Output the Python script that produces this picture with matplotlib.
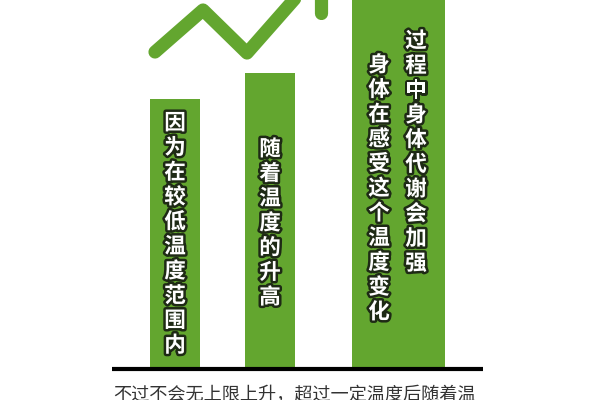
import matplotlib
matplotlib.use("Agg")
import matplotlib.pyplot as plt
import matplotlib.patheffects as pe

plt.rcParams["font.family"] = ["Noto Sans CJK SC", "DejaVu Sans"]

# bar data (height above the baseline, pixel-like units)
bar_labels = [
    ["因为在较低温度范围内"],
    ["随着温度的升高"],
    ["身体在感受这个温度变化", "过程中身体代谢会加强"],
]
bar_centers = [175, 270, 398.5]
bar_widths = [50, 50, 93]
bar_heights = [270, 296, 400]

# trend arrow
trend_x = [155, 203, 247, 321]
trend_y = [317, 359, 316, 400]
head_x = [277, 321, 321]
head_y = [400, 400, 356]

caption = "不过不会无上限上升，超过一定温度后随着温"

GREEN = "#63a62f"

fig = plt.figure(figsize=(6, 4), dpi=100)
ax = fig.add_axes([0, 0, 1, 1])
ax.set_xlim(0, 600)
ax.set_ylim(-31, 369)
ax.axis("off")

ax.bar(bar_centers, bar_heights, width=bar_widths, color=GREEN, zorder=2)
ax.plot([112, 483], [0, 0], color="black", lw=3, solid_capstyle="butt", zorder=3)

ax.plot(trend_x, trend_y, color=GREEN, lw=9.5, solid_capstyle="round",
        solid_joinstyle="round", zorder=2)
ax.plot(head_x, head_y, color=GREEN, lw=9.5, solid_capstyle="round",
        solid_joinstyle="round", zorder=2)

stroke = [pe.withStroke(linewidth=3.6, foreground="#1e2a15")]
step = 24.7
# (x, y of first char) for each column
col_pos = [
    [(175, 369 - 123)],
    [(270, 369 - 149)],
    [(379, 369 - 65), (416, 369 - 41)],
]
for cols, pos in zip(bar_labels, col_pos):
    for text, (cx, cy) in zip(cols, pos):
        for i, ch in enumerate(text):
            ax.text(cx, cy - i * step, ch, ha="center", va="center",
                    fontsize=15.5, fontweight="black", color="white",
                    path_effects=stroke, zorder=4)

ax.text(113, -26, caption, ha="left", va="center", fontsize=13.1,
        color="#333333", zorder=4)

fig.savefig("out.png", dpi=100)
